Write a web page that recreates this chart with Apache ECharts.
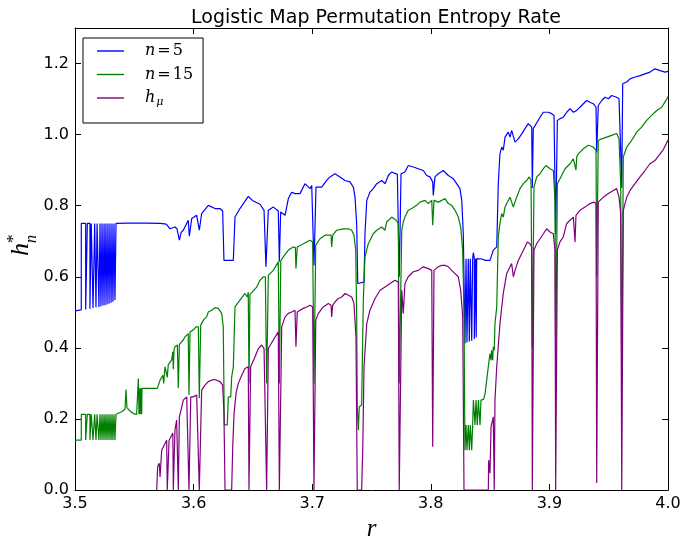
<!DOCTYPE html>
<html>
<head>
<meta charset="utf-8">
<script src="https://cdn.jsdelivr.net/npm/echarts@6/dist/echarts.min.js"></script>
<style>
  html, body { margin: 0; padding: 0; background: #fff; overflow: hidden; }
  #c { width: 682px; height: 540px; }
</style>
</head>
<body>
<div id="c"></div>
<script>
// ---- data: [r, h] pairs ----
const xTicks = [3.5, 3.6, 3.7, 3.8, 3.9, 4.0];
const yTicks = [0.0, 0.2, 0.4, 0.6, 0.8, 1.0, 1.2];
const seriesNames = ['n=5', 'n=15', 'h_mu'];

const blueData = [
[3.500,0.504],
[3.5053,0.507],[3.5053,0.750],[3.5090,0.750],[3.5090,0.508],
[3.5104,0.509],[3.5104,0.750],[3.5126,0.750],[3.5126,0.510],
[3.5137,0.511],[3.5137,0.750],[3.5152,0.750],[3.5152,0.512],
[3.5166,0.513],[3.5166,0.750],[3.5177,0.750],[3.5177,0.514],
[3.5186,0.514],[3.5186,0.750],[3.5202,0.750],[3.5202,0.515],
[3.5211,0.516],[3.5211,0.750],[3.5219,0.750],[3.5219,0.517],
[3.5228,0.518],[3.5228,0.750],[3.5236,0.750],[3.5236,0.519],
[3.5245,0.519],[3.5245,0.750],[3.5253,0.750],[3.5253,0.520],
[3.5261,0.521],[3.5261,0.750],[3.5270,0.750],[3.5270,0.522],
[3.5278,0.523],[3.5278,0.750],[3.5287,0.750],[3.5287,0.524],
[3.5295,0.525],[3.5295,0.750],[3.5304,0.750],[3.5304,0.527],
[3.5312,0.528],[3.5312,0.750],[3.5320,0.750],[3.5320,0.530],
[3.5329,0.532],[3.5329,0.750],[3.5337,0.750],[3.5337,0.535],
[3.5346,0.539],[3.5346,0.750],
[3.545,0.751],[3.560,0.751],[3.572,0.750],[3.577,0.748],
[3.5801,0.735],[3.5815,0.731],[3.5843,0.740],[3.5860,0.735],[3.5880,0.703],[3.5895,0.725],[3.5913,0.731],[3.5955,0.759],[3.5964,0.714],[3.5984,0.764],[3.6026,0.773],[3.6048,0.731],[3.6068,0.778],[3.6124,0.801],[3.6180,0.792],[3.6223,0.792],[3.6245,0.785],[3.6256,0.646],[3.6335,0.646],[3.6349,0.768],[3.6391,0.792],[3.6461,0.826],[3.6503,0.813],[3.6560,0.804],[3.6594,0.787],[3.6610,0.628],[3.6630,0.787],[3.6672,0.796],[3.6714,0.785],[3.6723,0.642],[3.6734,0.782],[3.6771,0.773],[3.6799,0.820],[3.6827,0.838],[3.6855,0.834],[3.6897,0.834],[3.6939,0.862],[3.6981,0.848],[3.6996,0.857],[3.7015,0.632],[3.7032,0.852],[3.7080,0.852],[3.7122,0.871],[3.7150,0.881],[3.7192,0.890],[3.7234,0.881],[3.7277,0.871],[3.7319,0.867],[3.7347,0.852],[3.7361,0.824],[3.7375,0.750],[3.7384,0.581],[3.7437,0.585],[3.7445,0.721],[3.7460,0.815],[3.7487,0.838],[3.7515,0.848],[3.7544,0.862],[3.7586,0.871],[3.7614,0.862],[3.7642,0.885],[3.7670,0.895],[3.7718,0.888],[3.7734,0.600],[3.7749,0.890],[3.7782,0.895],[3.7810,0.913],[3.7852,0.909],[3.7895,0.904],[3.7937,0.899],[3.7965,0.885],[3.7993,0.881],[3.8016,0.867],[3.8021,0.829],[3.8035,0.881],[3.8063,0.890],[3.8105,0.899],[3.8148,0.885],[3.8190,0.876],[3.8218,0.862],[3.8246,0.848],[3.8261,0.815],[3.8274,0.721],
[3.8288,0.412],[3.8297,0.412],[3.8297,0.651],[3.8305,0.651],[3.8305,0.415],[3.8316,0.415],[3.8316,0.651],[3.8325,0.651],[3.8325,0.418],[3.8333,0.418],[3.8333,0.651],[3.8345,0.651],[3.8345,0.420],[3.8353,0.420],[3.8353,0.651],[3.8359,0.668],[3.8367,0.651],[3.8367,0.425],[3.8378,0.425],[3.8378,0.651],[3.8383,0.651],[3.8383,0.430],[3.8387,0.430],[3.8387,0.651],
[3.8430,0.650],[3.8460,0.646],[3.8499,0.646],[3.8527,0.675],[3.8556,0.684],[3.8569,0.862],[3.8583,0.946],[3.8598,0.965],[3.8611,0.956],[3.8626,0.993],[3.8653,1.007],[3.8668,0.993],[3.8682,1.012],[3.8710,0.979],[3.8738,0.988],[3.8766,1.002],[3.8794,1.017],[3.8822,1.031],[3.8851,1.021],[3.8856,0.850],[3.8864,1.017],[3.8879,1.017],[3.8921,1.049],[3.8949,1.063],[3.8991,1.063],[3.9019,1.059],[3.9039,1.054],[3.9047,0.862],[3.9053,0.720],[3.9067,1.040],[3.9089,1.045],[3.9117,1.049],[3.9146,1.063],[3.9174,1.073],[3.9202,1.063],[3.9230,1.068],[3.9272,1.082],[3.9314,1.096],[3.9342,1.091],[3.9370,1.087],[3.9393,1.077],[3.9399,0.950],[3.9412,1.082],[3.9441,1.096],[3.9469,1.105],[3.9497,1.101],[3.9525,1.110],[3.9567,1.105],[3.9587,1.101],[3.9601,0.956],[3.9610,0.850],[3.9618,1.143],[3.9652,1.148],[3.9680,1.157],[3.9722,1.162],[3.9764,1.166],[3.9806,1.171],[3.9848,1.176],[3.9890,1.185],[3.9933,1.180],[3.9975,1.176],[4.000,1.178]
];

const greenData = [
[3.500,0.1405],
[3.5053,0.1405],[3.5053,0.213],[3.5090,0.213],[3.5090,0.1405],
[3.5104,0.1405],[3.5104,0.213],[3.5126,0.213],[3.5126,0.1405],
[3.5137,0.1405],[3.5137,0.213],[3.5152,0.213],[3.5152,0.1405],
[3.5166,0.1405],[3.5166,0.213],[3.5177,0.213],[3.5177,0.1405],
[3.5186,0.1405],[3.5186,0.213],[3.5202,0.213],[3.5202,0.1405],
[3.5211,0.1405],[3.5211,0.213],[3.5219,0.213],[3.5219,0.1405],
[3.5228,0.1405],[3.5228,0.213],[3.5236,0.213],[3.5236,0.1405],
[3.5245,0.1405],[3.5245,0.213],[3.5253,0.213],[3.5253,0.1405],
[3.5261,0.1405],[3.5261,0.213],[3.5270,0.213],[3.5270,0.1405],
[3.5278,0.1405],[3.5278,0.213],[3.5287,0.213],[3.5287,0.1405],
[3.5295,0.1405],[3.5295,0.213],[3.5304,0.213],[3.5304,0.1405],
[3.5312,0.1405],[3.5312,0.213],[3.5320,0.213],[3.5320,0.1405],
[3.5329,0.1405],[3.5329,0.213],[3.5337,0.213],[3.5337,0.1405],
[3.5346,0.1405],[3.5346,0.213],
[3.5394,0.220],[3.5422,0.228],[3.5430,0.283],[3.5438,0.232],[3.5464,0.222],[3.5492,0.215],[3.5520,0.213],[3.5534,0.314],[3.5540,0.213],[3.5545,0.286],[3.5550,0.213],[3.5556,0.286],[3.5562,0.213],[3.5565,0.286],
[3.5694,0.286],[3.5717,0.309],[3.5740,0.323],[3.5748,0.300],[3.5759,0.347],[3.5773,0.352],[3.5778,0.317],[3.5786,0.352],[3.5801,0.356],[3.5815,0.366],[3.5825,0.389],[3.5829,0.340],[3.5835,0.395],[3.5843,0.403],[3.5863,0.408],[3.5871,0.286],[3.5880,0.410],[3.5891,0.413],[3.5913,0.422],[3.5927,0.431],[3.5955,0.440],[3.5961,0.267],[3.5970,0.445],[3.5997,0.450],[3.6020,0.459],[3.6040,0.459],[3.6048,0.258],[3.6060,0.464],[3.6082,0.478],[3.6110,0.487],[3.6124,0.501],[3.6152,0.506],[3.6180,0.513],[3.6208,0.511],[3.6237,0.497],[3.6250,0.459],[3.6259,0.183],[3.6284,0.183],[3.6293,0.262],[3.6313,0.262],[3.6321,0.318],[3.6335,0.347],[3.6349,0.515],[3.6391,0.534],[3.6433,0.553],[3.6453,0.543],[3.6461,0.557],[3.6467,0.300],[3.6475,0.550],[3.6490,0.553],[3.6532,0.571],[3.6560,0.590],[3.6588,0.600],[3.6605,0.600],[3.6616,0.300],[3.6630,0.604],[3.6672,0.618],[3.6714,0.642],[3.6723,0.300],[3.6735,0.645],[3.6756,0.656],[3.6799,0.675],[3.6841,0.684],[3.6858,0.682],[3.6863,0.623],[3.6874,0.684],[3.6925,0.693],[3.6981,0.703],[3.7004,0.698],[3.7015,0.300],[3.7030,0.689],[3.7066,0.707],[3.7108,0.717],[3.7159,0.717],[3.7164,0.684],[3.7173,0.717],[3.7207,0.731],[3.7262,0.735],[3.7305,0.735],[3.7333,0.731],[3.7352,0.717],[3.7367,0.675],[3.7375,0.487],[3.7380,0.234],[3.7389,0.169],[3.7397,0.234],[3.7417,0.239],[3.7431,0.534],[3.7445,0.656],[3.7473,0.693],[3.7515,0.721],[3.7544,0.731],[3.7586,0.740],[3.7614,0.731],[3.7628,0.754],[3.7670,0.768],[3.7707,0.759],[3.7726,0.750],[3.7734,0.300],[3.7755,0.731],[3.7768,0.754],[3.7782,0.768],[3.7810,0.787],[3.7839,0.792],[3.7881,0.801],[3.7909,0.810],[3.7951,0.815],[3.7979,0.806],[3.8008,0.815],[3.8016,0.745],[3.8027,0.815],[3.8063,0.810],[3.8092,0.815],[3.8120,0.820],[3.8148,0.806],[3.8176,0.801],[3.8204,0.787],[3.8232,0.768],[3.8252,0.740],[3.8269,0.675],[3.8280,0.487],
[3.8288,0.112],[3.8297,0.112],[3.8297,0.183],[3.8305,0.183],[3.8305,0.112],[3.8316,0.112],[3.8316,0.183],[3.8325,0.183],[3.8325,0.112],[3.8333,0.112],[3.8333,0.183],[3.8345,0.183],[3.8345,0.112],[3.8353,0.112],[3.8353,0.183],[3.8359,0.183],[3.8359,0.253],[3.8373,0.253],[3.8373,0.183],[3.8381,0.183],[3.8381,0.253],[3.8392,0.253],[3.8392,0.183],[3.8401,0.183],[3.8401,0.253],[3.8415,0.253],[3.8415,0.183],[3.8423,0.183],[3.8423,0.253],[3.8437,0.253],[3.8445,0.255],[3.8458,0.272],[3.8472,0.272],[3.8485,0.347],[3.8499,0.384],[3.8508,0.365],[3.8513,0.393],[3.8522,0.365],[3.8527,0.403],[3.8535,0.393],[3.8541,0.468],[3.8556,0.515],
[3.8569,0.712],[3.8583,0.750],[3.8598,0.778],[3.8611,0.768],[3.8626,0.796],[3.8640,0.806],[3.8668,0.824],[3.8696,0.796],[3.8724,0.824],[3.8752,0.848],[3.8780,0.862],[3.8809,0.871],[3.8830,0.881],[3.8845,0.871],[3.8856,0.400],[3.8870,0.852],[3.8893,0.881],[3.8921,0.890],[3.8949,0.904],[3.8971,0.913],[3.9005,0.904],[3.9033,0.899],[3.9047,0.815],[3.9053,0.350],[3.9067,0.862],[3.9089,0.876],[3.9132,0.904],[3.9174,0.918],[3.9202,0.932],[3.9218,0.927],[3.9224,0.900],[3.9230,0.937],[3.9244,0.946],[3.9286,0.960],[3.9328,0.970],[3.9370,0.965],[3.9393,0.956],[3.9399,0.600],[3.9412,0.984],[3.9441,0.988],[3.9483,0.993],[3.9525,0.998],[3.9567,1.003],[3.9587,0.988],[3.9601,0.862],[3.9610,0.300],[3.9623,0.937],[3.9652,0.965],[3.9694,0.984],[3.9736,1.007],[3.9778,1.021],[3.9820,1.040],[3.9862,1.054],[3.9905,1.068],[3.9947,1.077],[3.9989,1.100],[4.000,1.107]
];

const purpleData = [
[3.5689,0.000],[3.5697,0.066],[3.5711,0.075],[3.5717,0.037],[3.5731,0.112],[3.5759,0.131],[3.5773,0.140],[3.5778,0.000],[3.5793,0.140],[3.5809,0.150],[3.5825,0.160],[3.5829,0.000],[3.5843,0.169],[3.5857,0.197],[3.5871,0.000],[3.5880,0.206],[3.5900,0.234],[3.5913,0.253],[3.5942,0.262],[3.5961,0.000],[3.5976,0.262],[3.5997,0.262],[3.6026,0.267],[3.6040,0.268],[3.6048,0.000],[3.6068,0.281],[3.6096,0.295],[3.6124,0.305],[3.6166,0.311],[3.6195,0.309],[3.6223,0.305],[3.6245,0.295],[3.6256,0.215],[3.6265,0.000],[3.6321,0.000],[3.6330,0.122],[3.6341,0.215],[3.6358,0.272],[3.6377,0.300],[3.6406,0.323],[3.6433,0.342],[3.6461,0.347],[3.6467,0.000],[3.6481,0.347],[3.6518,0.375],[3.6546,0.398],[3.6574,0.408],[3.6594,0.398],[3.6616,0.000],[3.6630,0.398],[3.6672,0.422],[3.6714,0.445],[3.6723,0.000],[3.6743,0.459],[3.6771,0.487],[3.6799,0.497],[3.6827,0.501],[3.6855,0.506],[3.6863,0.403],[3.6874,0.501],[3.6897,0.506],[3.6925,0.511],[3.6953,0.515],[3.6981,0.520],[3.7004,0.515],[3.7015,0.000],[3.7030,0.478],[3.7052,0.497],[3.7094,0.515],[3.7136,0.525],[3.7159,0.520],[3.7164,0.487],[3.7173,0.520],[3.7192,0.529],[3.7220,0.539],[3.7249,0.543],[3.7277,0.553],[3.7305,0.548],[3.7333,0.543],[3.7352,0.525],[3.7369,0.431],[3.7380,0.000],[3.7417,0.000],[3.7426,0.112],[3.7437,0.347],[3.7460,0.468],[3.7487,0.506],[3.7530,0.539],[3.7572,0.562],[3.7614,0.571],[3.7656,0.581],[3.7698,0.590],[3.7726,0.585],[3.7734,0.000],[3.7755,0.562],[3.7768,0.497],[3.7782,0.581],[3.7810,0.600],[3.7852,0.614],[3.7895,0.618],[3.7937,0.628],[3.7979,0.623],[3.8008,0.618],[3.8016,0.122],[3.8027,0.618],[3.8063,0.628],[3.8092,0.632],[3.8120,0.632],[3.8148,0.628],[3.8176,0.618],[3.8204,0.609],[3.8232,0.600],[3.8252,0.562],[3.8269,0.487],[3.8280,0.000],[3.8485,0.000],[3.8488,0.084],[3.8499,0.047],[3.8508,0.178],[3.8527,0.206],[3.8535,0.000],[3.8541,0.253],[3.8556,0.347],[3.8583,0.468],[3.8611,0.553],[3.8640,0.609],[3.8668,0.628],[3.8682,0.637],[3.8696,0.600],[3.8710,0.618],[3.8738,0.646],[3.8766,0.665],[3.8794,0.684],[3.8814,0.698],[3.8836,0.693],[3.8851,0.684],[3.8856,0.000],[3.8870,0.675],[3.8893,0.693],[3.8921,0.707],[3.8949,0.721],[3.8977,0.735],[3.9005,0.726],[3.9033,0.721],[3.9047,0.675],[3.9053,0.000],[3.9067,0.675],[3.9089,0.698],[3.9117,0.712],[3.9146,0.750],[3.9174,0.759],[3.9202,0.768],[3.9213,0.768],[3.9216,0.698],[3.9224,0.773],[3.9258,0.787],[3.9300,0.796],[3.9342,0.806],[3.9376,0.810],[3.9393,0.806],[3.9399,0.020],[3.9412,0.810],[3.9455,0.824],[3.9497,0.834],[3.9539,0.843],[3.9567,0.848],[3.9587,0.824],[3.9601,0.778],[3.9610,0.000],[3.9623,0.787],[3.9652,0.824],[3.9680,0.843],[3.9722,0.862],[3.9764,0.881],[3.9806,0.899],[3.9848,0.918],[3.9890,0.927],[3.9933,0.946],[3.9961,0.958],[4.000,0.985]
];

const colors = ['#0000ff', '#008000', '#800080'];
const seriesData = [blueData, greenData, purpleData];

const chart = echarts.init(document.getElementById('c'), null, { renderer: 'canvas', width: 682, height: 540 });

const tickFont = { fontFamily: 'DejaVu Sans', fontSize: 16, color: '#000' };
const serif = '"DejaVu Serif", "Liberation Serif", serif';

function baseX(extra) {
  return Object.assign({
    type: 'value', min: xTicks[0], max: xTicks[xTicks.length - 1], interval: 0.1,
    axisLine: { show: true, onZero: false, lineStyle: { color: '#000', width: 1 } },
    axisTick: { show: true, inside: true, length: 6, lineStyle: { color: '#000', width: 1 } },
    splitLine: { show: false }
  }, extra);
}
function baseY(extra) {
  return Object.assign({
    type: 'value', min: yTicks[0], max: 1.3, interval: 0.2,
    axisLine: { show: true, onZero: false, lineStyle: { color: '#000', width: 1 } },
    axisTick: { show: true, inside: true, length: 6, lineStyle: { color: '#000', width: 1 } },
    splitLine: { show: false }
  }, extra);
}

const legendLabels = {
  'n=5': '{i|n}{q|=}{e|5}',
  'n=15': '{i|n}{q|=}{e|15}',
  'h_mu': '{i|h}{s|μ}'
};

chart.setOption({
  animation: false,
  backgroundColor: '#fff',
  title: {
    text: 'Logistic Map Permutation Entropy Rate',
    left: 371, top: 4, textAlign: 'center',
    textStyle: { fontFamily: 'DejaVu Sans', fontSize: 19, fontWeight: 'normal', color: '#000' }
  },
  grid: { left: 75, right: 14, top: 28, bottom: 50, containLabel: false, outerBoundsMode: 'none' },
  legend: {
    data: seriesNames,
    orient: 'vertical',
    left: 83, top: 38,
    icon: 'rect',
    itemWidth: 27, itemHeight: 1.4, itemGap: 7.5,
    borderColor: '#000', borderWidth: 1, borderRadius: 0,
    padding: [5, 10, 15, 14],
    formatter: (name) => legendLabels[name],
    textStyle: {
      padding: [0, 0, 0, 16],
      rich: {
        i: { fontFamily: serif, fontStyle: 'italic', fontSize: 16, color: '#000', lineHeight: 20, verticalAlign: 'middle' },
        q: { fontFamily: serif, fontSize: 16, color: '#000', lineHeight: 20, verticalAlign: 'middle', padding: [0, 2, 0, 2] },
        e: { fontFamily: serif, fontSize: 16, color: '#000', lineHeight: 20, verticalAlign: 'middle' },
        s: { fontFamily: serif, fontStyle: 'italic', fontSize: 11, color: '#000', lineHeight: 20, verticalAlign: 'bottom', padding: [0, 0, 0, 1] }
      }
    }
  },
  xAxis: [
    baseX({
      position: 'bottom',
      axisLabel: Object.assign({ margin: 6, formatter: (v) => v.toFixed(1) }, tickFont),
      name: 'r', nameLocation: 'middle', nameGap: 27,
      nameTextStyle: { fontFamily: '"Liberation Serif", serif', fontStyle: 'italic', fontSize: 25, color: '#000' }
    }),
    baseX({ position: 'top', axisLabel: { show: false } })
  ],
  yAxis: [
    baseY({
      position: 'left',
      axisLabel: Object.assign({ margin: 6, showMaxLabel: false, formatter: (v) => v.toFixed(1) }, tickFont)
    }),
    baseY({ position: 'right', axisLabel: { show: false } })
  ],
  graphic: [{
    type: 'group', x: 34, y: 256, rotation: Math.PI / 2,
    children: [
      { type: 'text', x: 0, y: 0, style: { text: 'h', font: 'italic 26px "Liberation Serif", serif', fill: '#000', textAlign: 'left', textVerticalAlign: 'bottom' } },
      { type: 'text', x: 13, y: -12, style: { text: '*', font: '17px "Liberation Serif", serif', fill: '#000', textAlign: 'left', textVerticalAlign: 'bottom' } },
      { type: 'text', x: 13, y: 6, style: { text: 'n', font: 'italic 16px "Liberation Serif", serif', fill: '#000', textAlign: 'left', textVerticalAlign: 'bottom' } }
    ]
  }],
  series: seriesNames.map((name, i) => ({
    name: name,
    type: 'line',
    xAxisIndex: 0, yAxisIndex: 0,
    data: seriesData[i],
    symbol: 'none',
    clip: true,
    lineStyle: { color: colors[i], width: 1.2 },
    itemStyle: { color: colors[i] },
    z: 2 + i
  }))
});
</script>
</body>
</html>
